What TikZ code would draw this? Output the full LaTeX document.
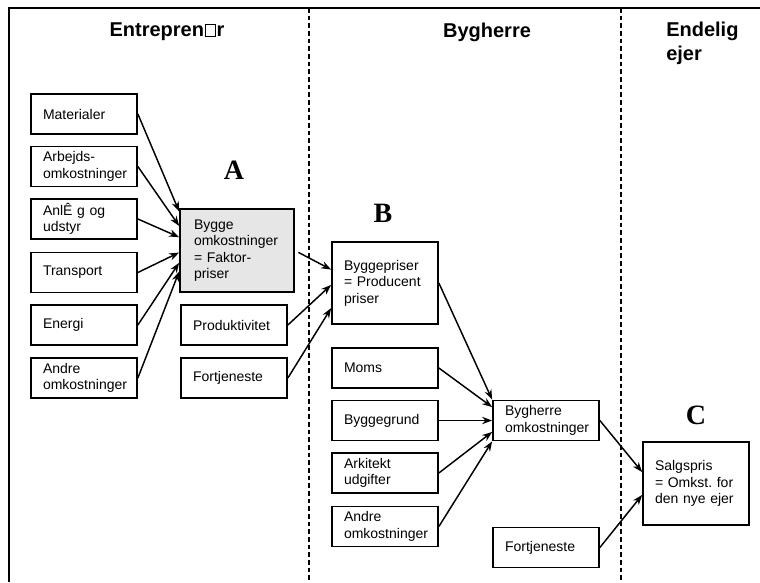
\documentclass[tikz,border=0pt]{standalone}
\usepackage{fontspec}
\setmainfont{Liberation Sans}
\newfontfamily\letterfont{Liberation Serif}
\usepackage{xcolor}
\usetikzlibrary{arrows.meta}
\definecolor{boxgray}{RGB}{230,230,230}
\hyphenpenalty=10000
\newcommand{\missingglyph}{{\setlength{\fboxrule}{0.5pt}\setlength{\fboxsep}{0pt}\kern0.5pt\fbox{\rule{0pt}{8.5pt}\hspace{7.5pt}}\kern0.5pt}}

\begin{document}
\begin{tikzpicture}[x=0.75pt,y=-0.75pt,
  box/.style={draw,line width=1.3pt,align=left,text width=61.5pt,inner xsep=9pt,inner ysep=0pt,
    minimum height=30pt,font=\fontsize{10.5}{12.4}\selectfont},
  tallbox/.style={box,minimum height=62pt},
  arr/.style={-{Stealth[length=7.5pt,width=5.5pt]},line width=1.1pt},
  head/.style={font=\fontsize{15}{18}\selectfont\bfseries},
  letter/.style={font=\fontsize{21}{21}\selectfont\letterfont\bfseries},
  divider/.style={dash pattern=on 3.5pt off 2.25pt,line width=1.2pt}]
  \useasboundingbox (0,0) rectangle (760,582);
  % frame and columns
  \draw[line width=1.2pt] (9,582) -- (9,8) -- (760,8);
  \draw[divider] (309,8) -- (309,582);
  \draw[divider] (621,8) -- (621,582);
  \node[head,anchor=base] (hent) at (167,36) {Entrepren\missingglyph r};
  \node[head,anchor=base] (hbyg) at (487,37) {Bygherre};
  \node[head,anchor=north west,align=left,inner sep=0pt] (hejer) at (666,21.5) {Endelig\\ejer};
  \node[letter] (la) at (234,170) {A};
  \node[letter] (lb) at (383,213) {B};
  \node[letter] (lc) at (696,415) {C};
  % entreprenor
  \node[box] (mat) at (84,114) {Materialer};
  \node[box] (arb) at (84,166.5) {Arbejds-\\omkostninger};
  \node[box] (anl) at (84,219) {AnlÊ g og\\udstyr};
  \node[box] (tra) at (84,272.5) {Transport};
  \node[box] (ene) at (84,325) {Energi};
  \node[box] (andre1) at (84,378) {Andre\\omkostninger};
  \node[tallbox,fill=boxgray,text width=64.5pt,inner xsep=10.5pt] (bom) at (237,250.5) {Bygge\\omkostninger\\= Faktor-\\priser\\[3pt]};
  \node[box] (pro) at (234,325) {Produktivitet};
  \node[box] (fort1) at (234,378) {Fortjeneste};
  % bygherre
  \node[tallbox] (bpr) at (385,283) {Byggepriser\\= Producent\\priser};
  \node[box] (moms) at (385,368) {Moms};
  \node[box] (bgr) at (385,420.5) {Byggegrund};
  \node[box] (ark) at (385,473) {Arkitekt\\udgifter};
  \node[box] (andre2) at (385,526.5) {Andre\\omkostninger};
  \node[box] (bho) at (546,420.5) {Bygherre\\omkostninger};
  \node[box] (fort2) at (546,547.5) {Fortjeneste};
  % endelig ejer
  \node[tallbox] (salg) at (696,483.5) {Salgspris\\= Omkst.\ for\\den nye ejer};
  % arrows
  \draw[arr] (mat.east) -- (bom.146);
  \draw[arr] (arb.east) -- (bom.157.6);
  \draw[arr] (anl.east) -- (bom.167.6);
  \draw[arr] (tra.east) -- (bom.182.5);
  \draw[arr] (ene.east) -- (bom.192.4);
  \draw[arr] (andre1.east) -- (bom.200.7);
  \draw[arr,shorten <=3pt] (bom.east) -- (bpr.166);
  \draw[arr] (pro.east) -- (bpr.182);
  \draw[arr] (fort1.east) -- (bpr.205);
  \draw[arr] (bpr.east) -- (bho.north west);
  \draw[arr] (moms.east) -- (bho.166.7);
  \draw[arr] (bgr.east) -- (bho.west);
  \draw[arr] (ark.east) -- (bho.192);
  \draw[arr] (andre2.east) -- (bho.south west);
  \draw[arr] (bho.east) -- (salg.168.8);
  \draw[arr] (fort2.east) -- (salg.192.2);
\end{tikzpicture}
\end{document}
